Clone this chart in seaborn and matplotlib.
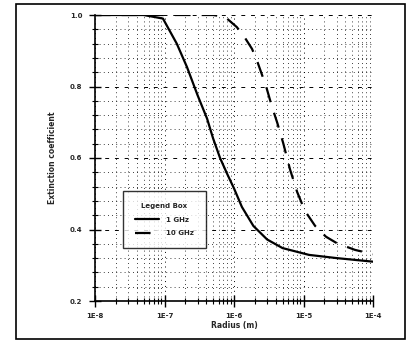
import numpy as np
import pandas as pd
import seaborn as sns
import matplotlib.pyplot as plt
from matplotlib.patches import Rectangle
from matplotlib.ticker import LogLocator, FuncFormatter, MultipleLocator

# --- data ---
radius_a = [1e-8, 5e-8, 9.5e-8, 1.5e-7, 2.1e-7, 3e-7, 4.1e-7, 5e-7, 6.3e-7, 8e-7,
            1e-6, 1.3e-6, 1.9e-6, 3e-6, 5e-6, 1.2e-5, 3e-5, 1e-4]
coef_a = [1.0, 1.0, 0.99, 0.92, 0.855, 0.775, 0.71, 0.655, 0.60, 0.555,
          0.515, 0.463, 0.41, 0.372, 0.348, 0.329, 0.32, 0.31]

radius_b = [1e-8, 5e-7, 7.4e-7, 1.1e-6, 1.44e-6, 1.82e-6, 2.2e-6, 2.9e-6, 3.5e-6, 4.2e-6,
            5.1e-6, 6.4e-6, 8.1e-6, 1.05e-5, 1.47e-5, 2.1e-5, 3e-5, 5.5e-5, 1e-4]
coef_b = [1.0, 1.0, 0.995, 0.966, 0.936, 0.905, 0.866, 0.8, 0.745, 0.698,
          0.642, 0.568, 0.505, 0.452, 0.41, 0.38, 0.362, 0.343, 0.331]

labels = ['1 GHz', '10 GHz']
x_ticks = [1e-8, 1e-7, 1e-6, 1e-5, 1e-4]
y_ticks = [0.2, 0.4, 0.6, 0.8, 1.0]

# --- style ---
sns.set_style('white')
plt.rcParams['font.family'] = ['DejaVu Sans']
plt.rcParams['font.weight'] = 'bold'
plt.rcParams['font.size'] = 5.5

fig = plt.figure(figsize=(4.07, 3.41), dpi=100)
ax = fig.add_axes([95 / 407, 40 / 341, 278 / 407, 286 / 341])

sns.lineplot(x=radius_a, y=coef_a, ax=ax, color='black', linewidth=1.6,
             label=labels[0], sort=False)
sns.lineplot(x=radius_b, y=coef_b, ax=ax, color='black', linewidth=1.6,
             linestyle=(0, (7, 5)), label=labels[1], sort=False)

ax.set_xscale('log')
ax.set_xlim(1e-8, 1e-4)
ax.set_ylim(0.2, 1.0)
ax.set_xticks(x_ticks)
ax.xaxis.set_major_formatter(FuncFormatter(lambda v, p: '1E%d' % round(np.log10(v))))
ax.xaxis.set_minor_locator(LogLocator(base=10, subs=np.arange(2, 10)))
ax.set_yticks(y_ticks)
ax.yaxis.set_major_formatter(FuncFormatter(lambda v, p: '%.1f' % v))
ax.yaxis.set_minor_locator(MultipleLocator(0.04))

ax.tick_params(which='both', bottom=True, left=True, top=False, right=False)
ax.tick_params(which='major', direction='inout', length=8, width=1.0, color='black',
               labelsize=5, pad=5)
ax.tick_params(which='minor', direction='inout', length=4, width=0.8, color='black')

# grid: dashed majors on y, dotted minors everywhere
ax.grid(which='major', axis='y', color='black', linestyle=(0, (4, 6)), linewidth=0.7)
ax.grid(which='major', axis='x', color='black', linestyle=(0, (1, 4)), linewidth=0.7)
ax.grid(which='minor', color='black', linestyle=(0, (1, 4)), linewidth=0.6)

for side in ['top', 'right']:
    ax.spines[side].set_visible(False)
for side in ['left', 'bottom']:
    ax.spines[side].set_color('black')
    ax.spines[side].set_linewidth(1.2)

ax.set_xlabel('Radius (m)', fontsize=5.5, fontweight='bold', labelpad=1)
ax.set_ylabel('Extinction coefficient', fontsize=5.5, fontweight='bold', labelpad=9)

leg = ax.legend(title='Legend Box', loc='lower left', bbox_to_anchor=(0.10, 0.185),
                frameon=True, fancybox=False, fontsize=5, title_fontsize=5,
                handlelength=3.5, borderpad=1.7, labelspacing=1.1, handletextpad=1.0,
                borderaxespad=0)
leg.get_frame().set_edgecolor('black')
leg.get_frame().set_linewidth(1.0)
leg.get_title().set_fontweight('bold')

# outer frame around the whole picture
fig.patches.append(Rectangle((16 / 407, 2 / 341), 389 / 407, 335 / 341,
                             transform=fig.transFigure, fill=False,
                             edgecolor='black', linewidth=1.2))

plt.savefig('out.png', dpi=100)
plt.close()
